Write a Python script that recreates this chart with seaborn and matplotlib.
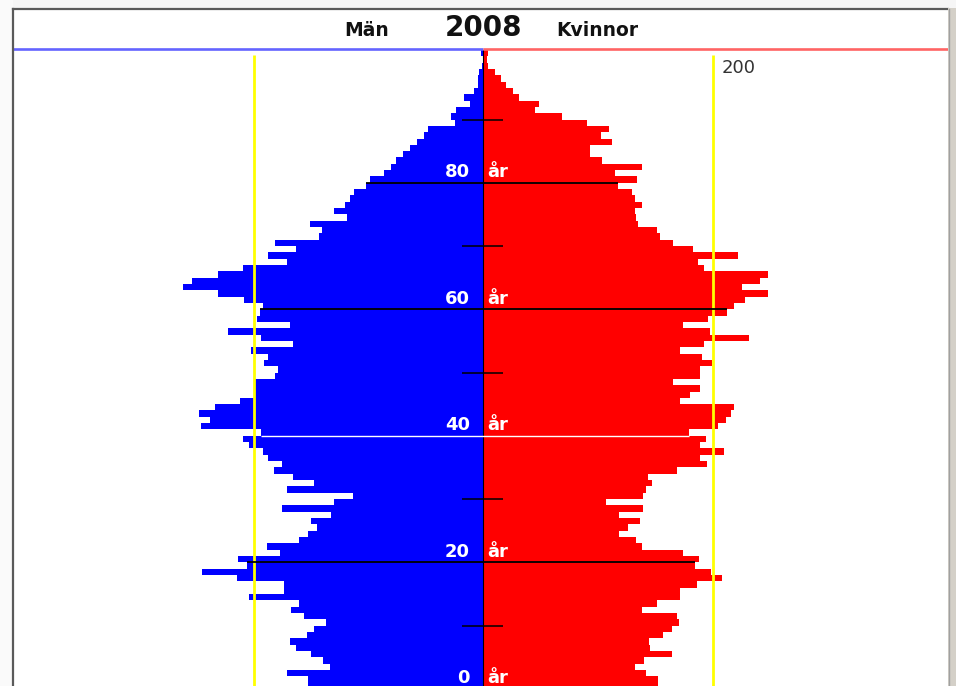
import numpy as np
import pandas as pd
import matplotlib
matplotlib.use("Agg")
import matplotlib.pyplot as plt
from matplotlib.lines import Line2D
from matplotlib.patches import Rectangle
import seaborn as sns

# ---- data (ages 0..100) ----
ages = list(range(0, 101))
men = [153, 153, 171, 134, 140, 150, 163, 169, 154, 148,
       137, 156, 168, 161, 204, 174, 174, 215, 245, 206,
       214, 177, 189, 161, 153, 145, 150, 133, 176, 130,
       114, 171, 148, 166, 183, 176, 188, 192, 204, 210,
       194, 246, 238, 248, 234, 212, 200, 200, 200, 182,
       179, 191, 188, 203, 166, 194, 223, 169, 197, 195,
       192, 209, 231, 262, 254, 231, 210, 171, 188, 163,
       182, 143, 141, 151, 119, 130, 121, 116, 113, 102,
       99, 87, 81, 76, 70, 64, 58, 52, 48, 25,
       28, 24, 12, 17, 8, 5, 5, 4, 1, 0,
       2]
women = [152, 152, 142, 132, 140, 164, 145, 144, 156, 164,
         170, 169, 138, 151, 171, 171, 186, 208, 198, 184,
         188, 174, 138, 133, 118, 126, 136, 118, 139, 107,
         139, 142, 147, 143, 169, 195, 189, 210, 189, 194,
         179, 204, 211, 216, 218, 171, 180, 189, 165, 189,
         189, 199, 190, 171, 192, 231, 197, 174, 196, 212,
         218, 228, 248, 225, 241, 248, 192, 187, 222, 183,
         165, 154, 151, 135, 133, 132, 138, 132, 129, 117,
         134, 115, 138, 103, 93, 93, 112, 102, 109, 90,
         68, 45, 48, 31, 26, 20, 15, 10, 4, 3,
         4]
year_label = "2008"
left_label = "Män"
right_label = "Kvinnor"
ref_value = 200
label_ages = [0, 20, 40, 60, 80]
tick_ages = [10, 30, 50, 70, 90]
black_line_ages = [20, 60, 80]
white_line_ages = [40]

df = pd.DataFrame({"age": ages, "men": men, "women": women})
df["pos"] = df["age"] + 0.5
df["men_neg"] = -df["men"]

BLUE = "#0000FF"
RED = "#FF0000"
YELLOW = "#FFFF00"

W, H = 956, 686
fig = plt.figure(figsize=(W / 100, H / 100), dpi=100)
fig.patch.set_facecolor("#FFFFFF")

left_px, right_px, top_px = 13, 948, 9
ax = fig.add_axes([left_px / W, 0, (right_px - left_px) / W, (H - top_px) / H])
ax.set_facecolor("white")

sns.barplot(data=df, x="men_neg", y="pos", orient="y", native_scale=True,
            color=BLUE, width=1.0, linewidth=0, errorbar=None, ax=ax,
            saturation=1, antialiased=False, zorder=2)
sns.barplot(data=df, x="women", y="pos", orient="y", native_scale=True,
            color=RED, width=1.0, linewidth=0, errorbar=None, ax=ax,
            saturation=1, antialiased=False, zorder=2)

# scale: 1.1475 px per unit, centre at x=483.5 px; 6.325 px per year, age 0 at y=688.8 px
xl = (left_px - 483.5) / 1.1475
xr = (right_px - 483.5) / 1.1475
yb = (688.8 - H) / 6.325
yt = (688.8 - top_px) / 6.325
ax.set_xlim(xl, xr)
ax.set_ylim(yb, yt)
ax.set_xticks([])
ax.set_yticks([])
ax.set_xlabel("")
ax.set_ylabel("")
for s in ax.spines.values():
    s.set_visible(False)

# centre line
ax.plot([0, 0], [yb, 101.0], color="black", lw=0.8, zorder=3)

# yellow reference lines
for xv in (-ref_value, ref_value):
    ax.plot([xv, xv], [yb, 100.2], color=YELLOW, lw=2.0, zorder=4, solid_capstyle="butt")

# age lines
for a in black_line_ages:
    ax.plot([-men[a - 1], women[a - 1]], [a, a], color="black", lw=1.3, zorder=5,
            solid_capstyle="butt")
for a in white_line_ages:
    ax.plot([-men[a], women[a]], [a, a], color="white", lw=1.0, zorder=5,
            solid_capstyle="butt")
for a in tick_ages:
    ax.plot([-19, 17], [a, a], color="black", lw=1.1, zorder=5, solid_capstyle="butt")

# age labels
for a in label_ages:
    ax.text(-12, a + 0.9, str(a), color="white", fontsize=13, fontweight="bold",
            ha="right", va="baseline", zorder=6)
    ax.text(3, a + 0.9, "år", color="white", fontsize=13, fontweight="bold",
            ha="left", va="baseline", zorder=6)

# header line
hy = (688.8 - 48.5) / 6.325
ax.plot([xl, 0], [hy, hy], color="#6464FF", lw=1.9, zorder=3, solid_capstyle="butt")
ax.plot([0, xr], [hy, hy], color="#FF6464", lw=1.9, zorder=3, solid_capstyle="butt")

# header texts
ax.text(-101.5, (688.8 - 30) / 6.325, left_label, fontsize=13.5, fontweight="bold",
        ha="center", va="center", color="#111111")
ax.text(0, (688.8 - 28) / 6.325, year_label, fontsize=20, fontweight="bold",
        ha="center", va="center", color="#111111")
ax.text(99, (688.8 - 30) / 6.325, right_label, fontsize=13.5, fontweight="bold",
        ha="center", va="center", color="#111111")
ax.text(207.5, (688.8 - 68) / 6.325, str(ref_value), fontsize=13, ha="left",
        va="center", color="#333333")

# window frame
fig.add_artist(Rectangle((0, (H - top_px) / H), 1, top_px / H, transform=fig.transFigure,
                         facecolor="#F6F6F6", edgecolor="none", zorder=0))
fig.add_artist(Rectangle((0, 0), left_px / W, 1, transform=fig.transFigure,
                         facecolor="#FAFAFA", edgecolor="none", zorder=0))
fig.add_artist(Line2D([left_px / W, right_px / W], [(H - top_px) / H] * 2,
                      transform=fig.transFigure, color="#5A5A5A", lw=1.6))
fig.add_artist(Line2D([left_px / W] * 2, [0, (H - top_px) / H],
                      transform=fig.transFigure, color="#5A5A5A", lw=1.6))
fig.add_artist(Rectangle((right_px / W, 0), (W - right_px) / W, (H - top_px + 1) / H,
                         transform=fig.transFigure, facecolor="#D4D0C8",
                         edgecolor="none", zorder=5))
fig.add_artist(Line2D([(right_px + 1) / W] * 2, [0, (H - top_px) / H],
                      transform=fig.transFigure, color="#A0A0A0", lw=1.0, zorder=6))

fig.savefig("out.png", dpi=100, facecolor=fig.get_facecolor())
